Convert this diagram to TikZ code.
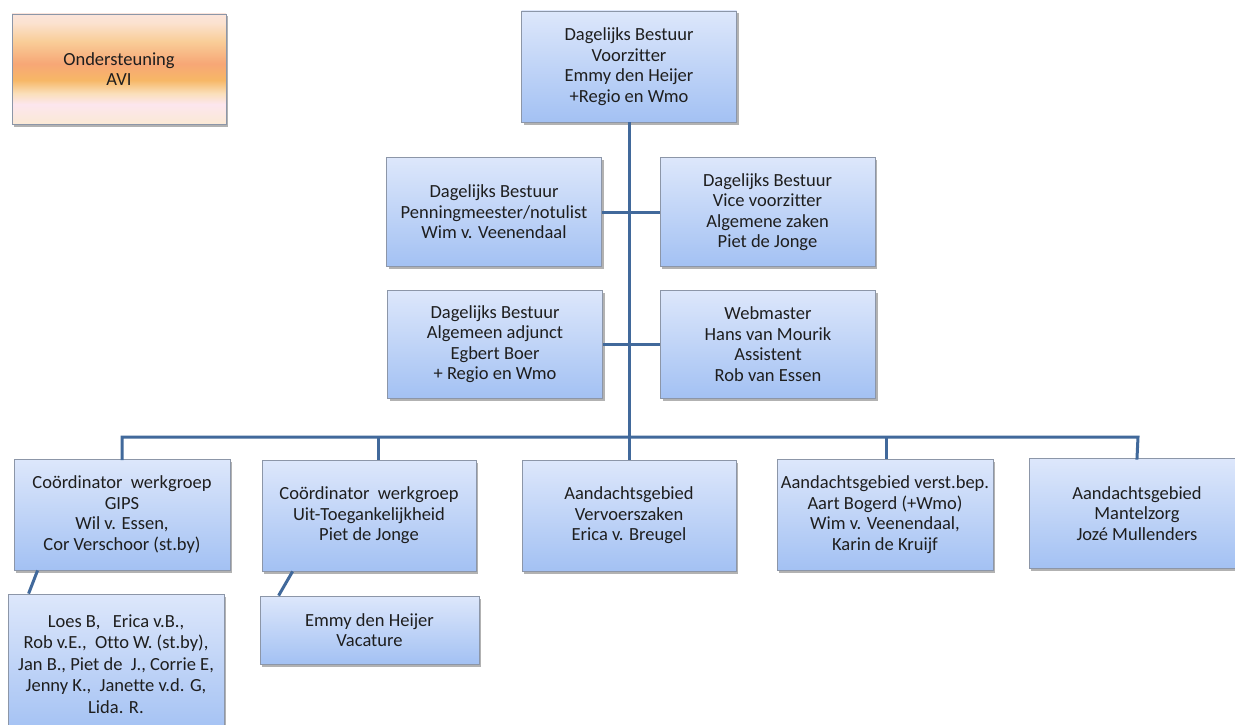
\documentclass[tikz,border=0pt]{standalone}
\usepackage{fontspec}
\setmainfont{Carlito}[Ligatures={NoCommon}]
\usetikzlibrary{shadows,calc}
\definecolor{conncol}{RGB}{65,105,155}
\definecolor{boxline}{RGB}{140,150,168}
\definecolor{btop}{RGB}{221,231,251}
\definecolor{bbot}{RGB}{163,193,243}
\definecolor{txt}{RGB}{30,30,30}
\definecolor{av0}{HTML}{FBE4DA}
\definecolor{av1}{HTML}{FBE2D0}
\definecolor{av2}{HTML}{F9CD98}
\definecolor{av3}{HTML}{F7A776}
\definecolor{av4}{HTML}{F7B766}
\definecolor{av5}{HTML}{FADFB9}
\definecolor{av6}{HTML}{FCE6EE}
\definecolor{av7}{HTML}{FBE9D5}
\pgfdeclareverticalshading{avi}{100bp}{color(0bp)=(av7); color(25bp)=(av7); color(34bp)=(av6); color(39bp)=(av5); color(45bp)=(av4); color(52.5bp)=(av3); color(62.5bp)=(av2); color(71bp)=(av1); color(75bp)=(av0); color(100bp)=(av0)}
\tikzset{
  orgbox/.style={draw=boxline, line width=0.8pt, top color=btop, bottom color=bbot,
    minimum width=#1, align=center, inner sep=0pt, text=txt,
    font=\fontsize{18.5}{20.5}\selectfont,
    drop shadow={shadow xshift=2pt, shadow yshift=-2.5pt, fill=black, opacity=0.3}},
  orgbox/.default=215pt,
  avibox/.style={draw=boxline, line width=0.8pt, shading=avi,
    minimum width=214pt, minimum height=110pt, align=center, inner sep=0pt, text=txt,
    font=\fontsize{18.5}{20.5}\selectfont,
    drop shadow={shadow xshift=2pt, shadow yshift=-2.5pt, fill=black, opacity=0.3}},
  conn/.style={draw=conncol, line width=3pt}
}
\begin{document}
\begin{tikzpicture}[x=1pt,y=-1pt]
\useasboundingbox (0,0) rectangle (1235,725);
\clip (0,0) rectangle (1235,725);
\fill[white] (0,0) rectangle (1235,725);

\coordinate (trunkend) at (629,437);
\coordinate (busL) at (122,437);
\coordinate (busR) at (1138,437);
\coordinate (d2) at (378,437);
\coordinate (d4) at (886,437);

% boxes
\node[avibox] (avi) at (119,69) {Ondersteuning\\AVI};
\node[orgbox, minimum height=111pt] (top) at (629,66.5) {Dagelijks Bestuur\\Voorzitter\\Emmy den Heijer\\+Regio en Wmo};
\node[orgbox, minimum height=109pt] (l2) at (494,212) {Dagelijks Bestuur\\Penningmeester/notulist\\Wim v. Veenendaal};
\node[orgbox, minimum height=109pt] (r2) at (767.5,212) {Dagelijks Bestuur\\Vice voorzitter\\Algemene zaken\\Piet de Jonge};
\node[orgbox, minimum height=108pt] (l3) at (495,344) {Dagelijks Bestuur\\Algemeen adjunct\\Egbert Boer\\+ Regio en Wmo};
\node[orgbox, minimum height=108pt] (r3) at (768,344) {Webmaster\\Hans van Mourik\\Assistent\\Rob van Essen};

\node[orgbox=216pt, minimum height=111pt] (b1) at (122,514.5) {Coördinator\ \ werkgroep\\GIPS\\Wil v. Essen,\\Cor Verschoor (st.by)};
\node[orgbox=214pt, minimum height=111pt] (b2) at (369,515.5) {Coördinator\ \ werkgroep\\Uit-Toegankelijkheid\\Piet de Jonge};
\node[orgbox=214pt, minimum height=111pt] (b3) at (629,515.5) {Aandachtsgebied\\Vervoerszaken\\Erica v. Breugel};
\node[orgbox=216pt, minimum height=111pt] (b4) at (885,514.5) {Aandachtsgebied verst.bep.\\Aart Bogerd (+Wmo)\\Wim v. Veenendaal,\\Karin de Kruijf};
\node[orgbox=216pt, minimum height=110pt] (b5) at (1137,513.5) {Aandachtsgebied\\Mantelzorg\\Jozé Mullenders};

\node[orgbox=216pt, minimum height=140pt, font=\fontsize{18.5}{21.5}\selectfont] (s1) at (116,664) {Loes B,\ \ \ Erica v.B.,\\Rob v.E.,\ \ Otto W. (st.by),\\Jan B., Piet de\ \ J., Corrie E,\\Jenny K.,\ \ Janette v.d. G,\\Lida. R.};
\node[orgbox=219pt, minimum height=68pt] (s2) at (369.5,630) {Emmy den Heijer\\Vacature};

% connectors
\draw[conn] (top.south) -- (trunkend);
\draw[conn] (l2.east) -- (r2.west);
\draw[conn] (l3.east) -- (r3.west);
\draw[conn, line cap=rect] (b1.north) -- (busL) -- (busR) -- (b5.north);
\draw[conn] (d2) -- (d2 |- b2.north);
\draw[conn] (trunkend) -- (b3.north);
\draw[conn] (d4) -- (d4 |- b4.north);
\draw[conn] ($(b1.south west)+(24,0)$) -- ($(s1.north west)+(21,0)$);
\draw[conn] ($(b2.south west)+(31,0)$) -- ($(s2.north west)+(19,0)$);
\end{tikzpicture}
\end{document}
